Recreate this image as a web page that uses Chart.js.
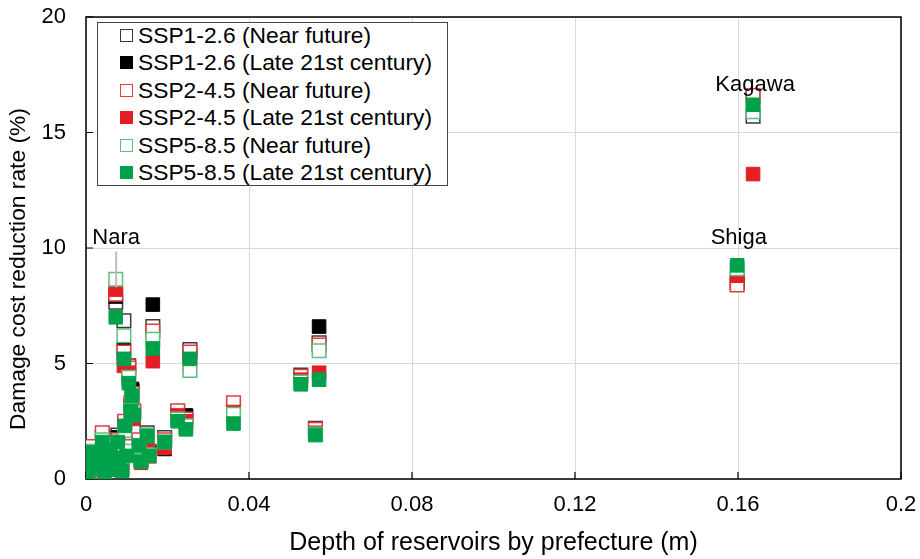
<!DOCTYPE html>
<html>
<head>
<meta charset="utf-8">
<script src="https://cdn.jsdelivr.net/npm/chart.js@4.4.1/dist/chart.umd.min.js"></script>
<style>
  body { margin: 0; background: #fff; }
  #wrap { position: relative; width: 920px; height: 559px; }
  #legenda {
    position: absolute; left: 97px; top: 22px; width: 351px; height: 164px;
    border: 1.5px solid #444; background: #fff; box-sizing: border-box; padding-top: 0;
    font-family: "Liberation Sans", Arial, sans-serif; font-size: 22.8px; color: #000;
  }
  #legenda .fila { height: 27.4px; line-height: 25px; white-space: nowrap; position: relative; }
  #legenda .marca { position: absolute; left: 22px; top: 6px; width: 13px; height: 13px; box-sizing: border-box; }
  #legenda .texto { position: absolute; left: 40px; top: 0; }
</style>
</head>
<body>
<div id="wrap">
  <canvas id="myChart" width="920" height="559"></canvas>
  <div id="legenda"></div>
</div>
<script>
// profundidad de embalses por prefectura (m)
const prefDepth = [0.1637, 0.1598, 0.0572, 0.0527, 0.0563, 0.0362, 0.0255, 0.0225, 0.0245, 0.0193,
                   0.0150, 0.0155, 0.0073, 0.0164, 0.0093, 0.0105, 0.0113, 0.0110, 0.0117, 0.0005,
                   0.0010, 0.0020, 0.0030, 0.0040, 0.0045, 0.0060, 0.0068, 0.0078, 0.0080, 0.0095,
                   0.0100, 0.0130, 0.0135, 0.0015, 0.0050, 0.0088];

// tasa de reduccion (%) por escenario
const ssp126Near = [15.7, 8.5, 5.9, 4.5, 2.2, 3.2, 5.6, 2.9, 2.7, 1.8, 2.0, 1.2, 7.65, 6.6, 6.85, 4.9, 3.8, 3.1, 2.9, 0.3,
                    0.6, 0.9, 1.2, 1.8, 0.4, 1.5, 0.6, 1.9, 1.1, 2.4, 1.3, 1.6, 0.9, 1.3, 0.9, 0.5];
const ssp126Late = [16.5, 8.6, 6.6, 4.4, 2.0, 3.0, 5.3, 2.8, 2.75, 1.3, 1.9, 1.1, 7.9, 7.55, 5.65, 4.5, 3.9, 3.2, 2.8, 0.2,
                    0.5, 0.8, 1.1, 1.7, 0.3, 1.4, 0.5, 1.8, 1.0, 2.3, 1.2, 1.5, 0.8, 1.2, 0.8, 0.4];
const ssp245Near = [16.6, 8.4, 5.8, 4.45, 2.15, 3.3, 5.5, 2.95, 2.6, 1.7, 1.8, 1.0, 8.0, 6.4, 5.5, 4.8, 3.7, 3.3, 2.95, 0.5,
                    0.75, 1.0, 1.3, 2.0, 0.4, 1.6, 0.7, 1.7, 1.0, 2.5, 1.4, 1.7, 0.9, 1.4, 1.0, 0.6];
const ssp245Late = [13.2, 8.8, 4.6, 4.3, 2.0, 2.9, 4.9, 2.75, 2.5, 1.35, 1.5, 1.0, 8.2, 5.1, 4.9, 4.6, 3.5, 2.8, 2.6, 0.1,
                    0.4, 0.6, 1.0, 1.6, 0.3, 1.3, 0.5, 1.6, 0.9, 2.2, 1.1, 1.3, 0.7, 1.1, 0.7, 0.4];
const ssp585Near = [15.9, 9.1, 5.55, 4.2, 1.95, 2.8, 4.7, 2.6, 2.3, 1.6, 1.9, 1.05, 8.65, 6.05, 6.2, 4.4, 3.6, 3.0, 2.8, 0.3,
                    0.5, 0.8, 1.1, 1.7, 0.3, 1.4, 0.5, 1.5, 0.9, 2.1, 1.2, 1.4, 0.8, 1.2, 0.8, 0.4];
const ssp585Late = [16.2, 9.25, 4.3, 4.1, 1.9, 2.4, 5.2, 2.5, 2.15, 1.6, 1.85, 1.0, 7.0, 5.65, 5.2, 4.15, 3.6, 2.95, 2.75, 0.2,
                    0.5, 0.7, 1.0, 1.6, 0.3, 1.3, 0.4, 1.6, 0.9, 2.3, 1.0, 1.45, 0.75, 1.15, 0.75, 0.35];

const seriesNames = ['SSP1-2.6 (Near future)', 'SSP1-2.6 (Late 21st century)',
                     'SSP2-4.5 (Near future)', 'SSP2-4.5 (Late 21st century)',
                     'SSP5-8.5 (Near future)', 'SSP5-8.5 (Late 21st century)'];
const seriesValues = [ssp126Near, ssp126Late, ssp245Near, ssp245Late, ssp585Near, ssp585Late];

const xTickValues = [0, 0.04, 0.08, 0.12, 0.16, 0.2];
const xTickLabels = ['0', '0.04', '0.08', '0.12', '0.16', '0.2'];
const yTickValues = [0, 5, 10, 15, 20];
const yTickLabels = ['0', '5', '10', '15', '20'];

const tituloY = 'Damage cost reduction rate (%)';

// etiquetas de prefecturas
const etiquetas = [
    { texto: 'Kagawa', x: 0.1642, y: 17.05 },
    { texto: 'Shiga', x: 0.1602, y: 10.45 },
    { texto: 'Nara', x: 0.0074, y: 10.45 }
];

// estilos
const bordes = ['#3a3a3a', '#000000', '#e8393d', '#e31e25', '#5cbf7f', '#00a14b'];
const rellenos = ['#ffffff', '#000000', '#ffffff', '#e31e25', '#ffffff', '#00a14b'];
const FUENTE = '"Liberation Sans", Arial, sans-serif';

function construirDatasets() {
    let datasets = [];
    for (let i = 0; i < seriesNames.length; i++) {
        let vals = seriesValues[i];
        datasets.push({
            label: seriesNames[i],
            data: prefDepth.map((x, j) => ({ x: x, y: vals[j] })),
            pointStyle: 'rect',
            pointRadius: 9.6,
            pointHoverRadius: 9.6,
            borderWidth: rellenos[i] === '#ffffff' ? 1.5 : 1,
            borderColor: bordes[i],
            backgroundColor: rellenos[i],
            order: seriesNames.length - i // la ultima serie queda encima, como en Excel
        });
    }
    return datasets;
}

function construirLeyenda() {
    let caja = document.getElementById('legenda');
    for (let i = 0; i < seriesNames.length; i++) {
        let fila = document.createElement('div');
        fila.className = 'fila';
        let marca = document.createElement('span');
        marca.className = 'marca';
        marca.style.background = rellenos[i];
        marca.style.border = '1.5px solid ' + bordes[i];
        let texto = document.createElement('span');
        texto.className = 'texto';
        texto.textContent = seriesNames[i];
        fila.appendChild(marca);
        fila.appendChild(texto);
        caja.appendChild(fila);
    }
}

const marcoPlugin = {
    id: 'marco',
    beforeDatasetsDraw(chart) {
        const { ctx, chartArea: a, scales } = chart;
        ctx.save();
        ctx.strokeStyle = '#000';
        ctx.lineWidth = 1.5;
        ctx.strokeRect(a.left, a.top, a.right - a.left, a.bottom - a.top);
        ctx.lineWidth = 1.2;
        ctx.beginPath();
        for (let v of xTickValues) {
            let px = scales.x.getPixelForValue(v);
            ctx.moveTo(px, a.bottom);
            ctx.lineTo(px, a.bottom - 7);
        }
        for (let v of yTickValues) {
            let py = scales.y.getPixelForValue(v);
            ctx.moveTo(a.left, py);
            ctx.lineTo(a.left + 7, py);
        }
        ctx.stroke();

        // titulo del eje Y (un poco por debajo del centro, como en el original)
        ctx.font = '22.8px ' + FUENTE;
        ctx.fillStyle = '#000';
        ctx.textAlign = 'center';
        ctx.textBaseline = 'middle';
        ctx.translate(19, (a.top + a.bottom) / 2 + 21);
        ctx.rotate(-Math.PI / 2);
        ctx.fillText(tituloY, 0, 0);
        ctx.restore();
    },
    afterDatasetsDraw(chart) {
        const { ctx, scales } = chart;
        ctx.save();
        // linea de Nara
        let nara = etiquetas[2];
        let nx = scales.x.getPixelForValue(nara.x);
        ctx.strokeStyle = '#bdbdbd';
        ctx.lineWidth = 2;
        ctx.beginPath();
        ctx.moveTo(nx, scales.y.getPixelForValue(9.85));
        ctx.lineTo(nx, scales.y.getPixelForValue(8.3));
        ctx.stroke();

        ctx.font = '22px ' + FUENTE;
        ctx.fillStyle = '#000';
        ctx.textAlign = 'center';
        ctx.textBaseline = 'middle';
        for (let e of etiquetas) {
            ctx.fillText(e.texto, scales.x.getPixelForValue(e.x), scales.y.getPixelForValue(e.y));
        }
        ctx.restore();
    }
};

const canvas = document.getElementById('myChart');
const ctx = canvas.getContext('2d');

new Chart(ctx, {
    type: 'scatter',
    data: { datasets: construirDatasets() },
    options: {
        responsive: false,
        animation: false,
        devicePixelRatio: 1,
        layout: { padding: { top: 17, right: 19, left: 0, bottom: 0 } },
        plugins: {
            legend: { display: false },
            tooltip: { enabled: false }
        },
        scales: {
            x: {
                type: 'linear',
                min: 0,
                max: 0.2,
                afterBuildTicks: (scale) => { scale.ticks = xTickValues.map(v => ({ value: v })); },
                afterFit: (scale) => {
                    scale.height = 80;
                    scale.paddingLeft = 0;
                    scale.paddingRight = 0;
                },
                grid: { color: '#d9d9d9', lineWidth: 1, drawTicks: false },
                border: { display: false },
                ticks: {
                    padding: 13,
                    color: '#000',
                    font: { family: FUENTE, size: 22 },
                    maxRotation: 0,
                    callback: (v, i) => xTickLabels[i]
                },
                title: {
                    display: true,
                    text: 'Depth of reservoirs by prefecture (m)',
                    color: '#000',
                    font: { family: FUENTE, size: 25 },
                    padding: { top: 0, bottom: 1 }
                }
            },
            y: {
                type: 'linear',
                min: 0,
                max: 20,
                afterBuildTicks: (scale) => { scale.ticks = yTickValues.map(v => ({ value: v })); },
                afterFit: (scale) => {
                    scale.width = 86;
                    scale.paddingTop = 0;
                    scale.paddingBottom = 0;
                },
                grid: { color: '#d9d9d9', lineWidth: 1, drawTicks: false },
                border: { display: false },
                ticks: {
                    padding: 20,
                    color: '#000',
                    font: { family: FUENTE, size: 22 },
                    callback: (v, i) => yTickLabels[i]
                },
                title: { display: false }
            }
        }
    },
    plugins: [marcoPlugin]
});

construirLeyenda();
</script>
</body>
</html>
